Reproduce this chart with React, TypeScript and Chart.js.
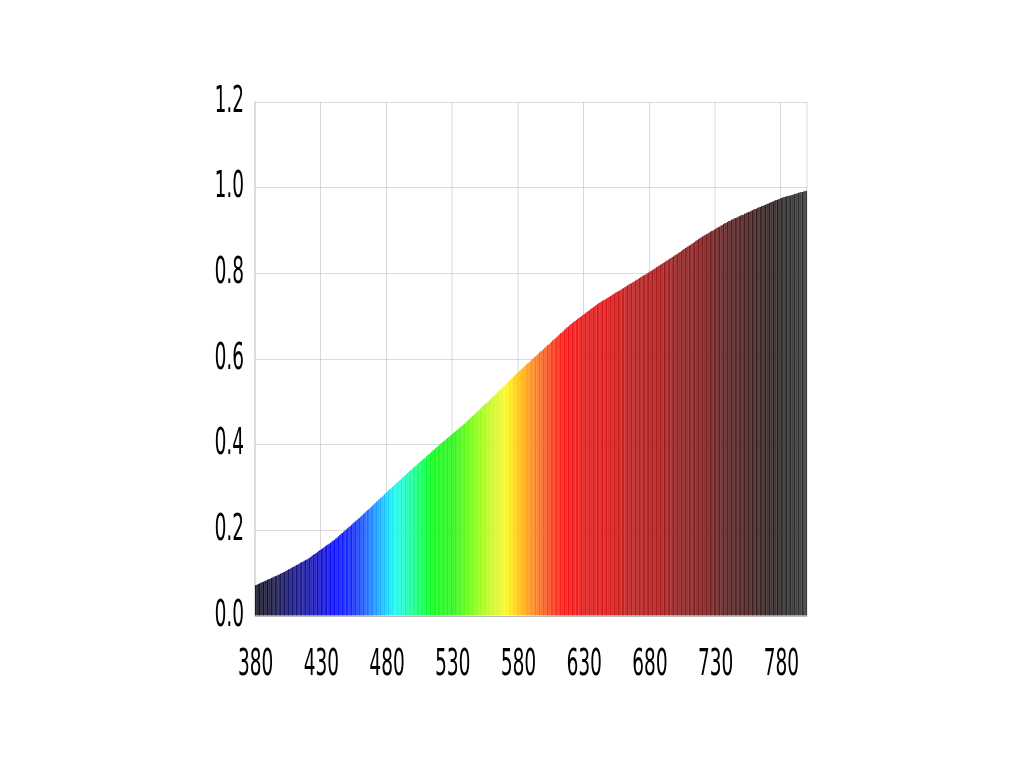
import { useEffect, useRef } from "react";
import { Chart, registerables } from "chart.js";

Chart.register(...registerables);

// Categories: wavelengths in nm, one bar per nanometre
const WAVELENGTH_START = 380;
const WAVELENGTH_COUNT = 420;
const WAVELENGTHS: number[] = Array.from({ length: WAVELENGTH_COUNT }, (_, i) => WAVELENGTH_START + i);

// Axis tick labels
const X_TICK_LABELS = [380, 430, 480, 530, 580, 630, 680, 730, 780];
const Y_MIN = 0;
const Y_MAX = 1.2;
const Y_STEP = 0.2;

// Bar heights (380 - 459 nm)
const VALUES_380_459 = [
  0.072, 0.073, 0.075, 0.076, 0.078, 0.079, 0.080, 0.082, 0.083, 0.085,
  0.086, 0.087, 0.089, 0.090, 0.092, 0.093, 0.094, 0.096, 0.097, 0.099,
  0.100, 0.102, 0.103, 0.105, 0.107, 0.109, 0.110, 0.112, 0.114, 0.115,
  0.117, 0.119, 0.120, 0.122, 0.124, 0.126, 0.127, 0.129, 0.131, 0.132,
  0.134, 0.136, 0.138, 0.141, 0.143, 0.145, 0.147, 0.149, 0.152, 0.154,
  0.156, 0.158, 0.160, 0.163, 0.165, 0.167, 0.169, 0.171, 0.174, 0.176,
  0.178, 0.181, 0.183, 0.186, 0.189, 0.192, 0.194, 0.197, 0.200, 0.202,
  0.205, 0.208, 0.210, 0.213, 0.216, 0.219, 0.221, 0.224, 0.227, 0.229,
];

// 460 - 539 nm
const VALUES_460_539 = [
  0.232, 0.235, 0.238, 0.241, 0.244, 0.247, 0.249, 0.252, 0.255, 0.258,
  0.261, 0.264, 0.267, 0.270, 0.273, 0.276, 0.278, 0.281, 0.284, 0.287,
  0.290, 0.293, 0.296, 0.298, 0.301, 0.304, 0.307, 0.310, 0.312, 0.315,
  0.318, 0.321, 0.324, 0.326, 0.329, 0.332, 0.335, 0.338, 0.340, 0.343,
  0.346, 0.349, 0.351, 0.354, 0.357, 0.360, 0.362, 0.365, 0.368, 0.370,
  0.373, 0.376, 0.378, 0.381, 0.384, 0.387, 0.389, 0.392, 0.395, 0.397,
  0.400, 0.403, 0.405, 0.408, 0.410, 0.413, 0.416, 0.418, 0.421, 0.423,
  0.426, 0.429, 0.431, 0.434, 0.436, 0.439, 0.442, 0.444, 0.447, 0.449,
];

// 540 - 619 nm
const VALUES_540_619 = [
  0.452, 0.455, 0.458, 0.461, 0.464, 0.467, 0.469, 0.472, 0.475, 0.478,
  0.481, 0.484, 0.487, 0.490, 0.493, 0.496, 0.498, 0.501, 0.504, 0.507,
  0.510, 0.513, 0.516, 0.519, 0.522, 0.525, 0.528, 0.531, 0.534, 0.537,
  0.540, 0.543, 0.546, 0.549, 0.552, 0.555, 0.558, 0.561, 0.564, 0.567,
  0.570, 0.573, 0.576, 0.578, 0.581, 0.584, 0.587, 0.590, 0.592, 0.595,
  0.598, 0.601, 0.604, 0.606, 0.609, 0.612, 0.615, 0.618, 0.620, 0.623,
  0.626, 0.629, 0.632, 0.634, 0.637, 0.640, 0.643, 0.646, 0.648, 0.651,
  0.654, 0.657, 0.660, 0.662, 0.665, 0.668, 0.671, 0.674, 0.676, 0.679,
];

// 620 - 699 nm
const VALUES_620_699 = [
  0.682, 0.684, 0.687, 0.689, 0.691, 0.694, 0.696, 0.698, 0.700, 0.703,
  0.705, 0.707, 0.710, 0.712, 0.714, 0.717, 0.719, 0.721, 0.723, 0.726,
  0.728, 0.730, 0.732, 0.734, 0.736, 0.738, 0.739, 0.741, 0.743, 0.745,
  0.747, 0.749, 0.751, 0.753, 0.755, 0.757, 0.758, 0.760, 0.762, 0.764,
  0.766, 0.768, 0.770, 0.772, 0.774, 0.776, 0.777, 0.779, 0.781, 0.783,
  0.785, 0.787, 0.789, 0.791, 0.793, 0.795, 0.796, 0.798, 0.800, 0.802,
  0.804, 0.806, 0.808, 0.810, 0.812, 0.814, 0.816, 0.818, 0.820, 0.822,
  0.824, 0.826, 0.828, 0.830, 0.832, 0.834, 0.836, 0.838, 0.840, 0.842,
];

// 700 - 799 nm
const VALUES_700_799 = [
  0.844, 0.846, 0.848, 0.850, 0.852, 0.855, 0.857, 0.859, 0.861, 0.863,
  0.865, 0.867, 0.869, 0.871, 0.873, 0.876, 0.878, 0.880, 0.882, 0.884,
  0.886, 0.888, 0.890, 0.891, 0.893, 0.895, 0.897, 0.899, 0.900, 0.902,
  0.904, 0.906, 0.908, 0.909, 0.911, 0.913, 0.915, 0.917, 0.918, 0.920,
  0.922, 0.923, 0.925, 0.926, 0.928, 0.929, 0.930, 0.932, 0.933, 0.935,
  0.936, 0.937, 0.939, 0.940, 0.942, 0.943, 0.944, 0.946, 0.947, 0.949,
  0.950, 0.951, 0.953, 0.954, 0.955, 0.957, 0.958, 0.959, 0.960, 0.962,
  0.963, 0.964, 0.966, 0.967, 0.968, 0.970, 0.971, 0.972, 0.973, 0.975,
  0.976, 0.977, 0.978, 0.979, 0.980, 0.981, 0.981, 0.982, 0.983, 0.984,
  0.985, 0.986, 0.987, 0.988, 0.989, 0.990, 0.990, 0.991, 0.992, 0.993,
];

const VALUES = [
  ...VALUES_380_459,
  ...VALUES_460_539,
  ...VALUES_540_619,
  ...VALUES_620_699,
  ...VALUES_700_799,
];

// Spectrum colour stops (style): [nm, r, g, b]
const COLOR_STOPS: [number, number, number, number][] = [
  [380, 15, 15, 30],
  [395, 20, 20, 70],
  [410, 20, 20, 130],
  [425, 15, 15, 195],
  [440, 10, 10, 245],
  [455, 15, 45, 255],
  [465, 25, 105, 255],
  [478, 25, 195, 255],
  [486, 15, 250, 240],
  [495, 15, 255, 185],
  [505, 15, 255, 100],
  [515, 15, 250, 25],
  [530, 35, 250, 15],
  [545, 125, 250, 25],
  [560, 205, 250, 25],
  [570, 250, 250, 25],
  [580, 255, 195, 25],
  [592, 255, 130, 25],
  [605, 250, 60, 20],
  [615, 245, 20, 20],
  [640, 225, 20, 20],
  [670, 185, 25, 25],
  [700, 150, 25, 25],
  [730, 105, 28, 28],
  [755, 65, 28, 28],
  [775, 40, 30, 30],
  [790, 45, 45, 45],
  [800, 50, 50, 50],
];

function spectrumColor(nm: number): string {
  for (let i = 0; i < COLOR_STOPS.length - 1; i++) {
    const a = COLOR_STOPS[i];
    const b = COLOR_STOPS[i + 1];
    if (nm >= a[0] && nm <= b[0]) {
      const t = (nm - a[0]) / (b[0] - a[0]);
      const r = Math.round(a[1] + (b[1] - a[1]) * t);
      const g = Math.round(a[2] + (b[2] - a[2]) * t);
      const bl = Math.round(a[3] + (b[3] - a[3]) * t);
      return `rgb(${r},${g},${bl})`;
    }
  }
  const last = COLOR_STOPS[COLOR_STOPS.length - 1];
  return `rgb(${last[1]},${last[2]},${last[3]})`;
}

const GRID_COLOR = "rgba(0,0,0,0.14)";
const FONT = { family: "'DejaVu Sans', sans-serif", size: 37 };

export default function App() {
  const ref = useRef<HTMLCanvasElement | null>(null);

  useEffect(() => {
    if (!ref.current) return;
    const chart = new Chart(ref.current, {
      type: "bar",
      data: {
        labels: WAVELENGTHS.map(String),
        datasets: [
          {
            label: "spectrum",
            data: VALUES,
            backgroundColor: WAVELENGTHS.map(spectrumColor),
            borderWidth: 0,
            barPercentage: 0.92,
            categoryPercentage: 1,
          },
        ],
      },
      options: {
        responsive: false,
        animation: false,
        devicePixelRatio: 1,
        layout: { padding: { left: 294, right: 418, top: 94, bottom: 64 } },
        plugins: { legend: { display: false }, tooltip: { enabled: false } },
        scales: {
          x: {
            type: "category",
            afterFit: (scale: any) => {
              scale.height = 80;
            },
            grid: {
              offset: true,
              drawTicks: false,
              lineWidth: 2,
              color: (ctx: any) => {
                if (ctx.index === undefined) return GRID_COLOR;
                const nm = WAVELENGTHS[ctx.index];
                return X_TICK_LABELS.includes(nm) || ctx.index === WAVELENGTH_COUNT ? GRID_COLOR : "rgba(0,0,0,0)";
              },
            },
            border: { color: GRID_COLOR, width: 1 },
            ticks: {
              autoSkip: false,
              maxRotation: 0,
              minRotation: 0,
              padding: 27,
              color: "#000",
              font: FONT,
              callback: (_v: any, idx: number) => {
                const nm = WAVELENGTHS[idx];
                return X_TICK_LABELS.includes(nm) ? String(nm) : "";
              },
            },
          },
          y: {
            min: Y_MIN,
            max: Y_MAX,
            afterFit: (scale: any) => {
              scale.width = 200;
            },
            grid: { drawTicks: false, color: GRID_COLOR, lineWidth: 1 },
            border: { color: GRID_COLOR, width: 2 },
            ticks: {
              stepSize: Y_STEP,
              padding: 22,
              color: "#000",
              font: FONT,
              callback: (v: any) => Number(v).toFixed(1),
            },
          },
        },
      },
    });
    return () => chart.destroy();
  }, []);

  return (
    <canvas
      ref={ref}
      width={2016}
      height={752}
      style={{ display: "block", width: "1008px", height: "752px" }}
    />
  );
}
